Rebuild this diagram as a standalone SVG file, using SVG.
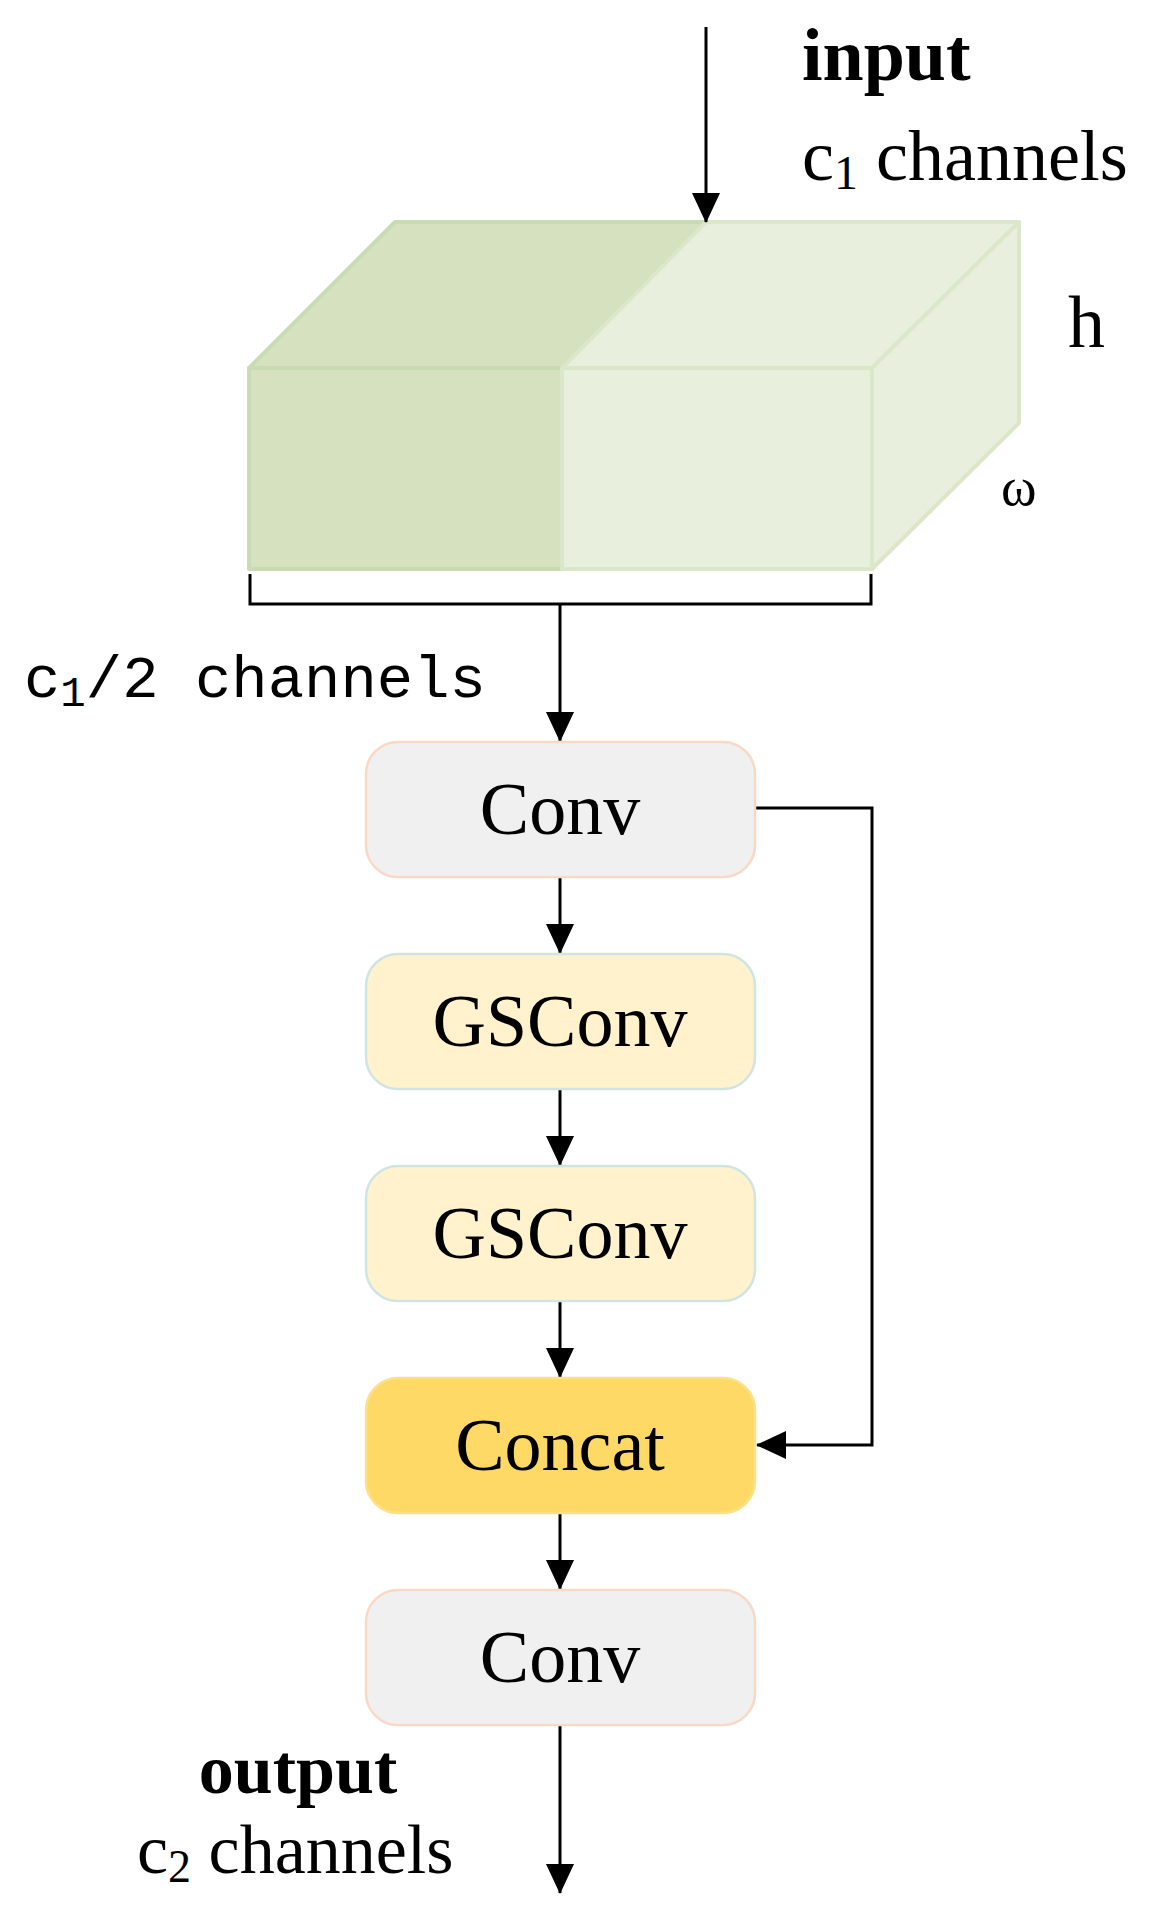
<svg xmlns="http://www.w3.org/2000/svg" width="1149" height="1912" viewBox="0 0 1149 1912">
<defs>
<marker id="ah" markerWidth="30" markerHeight="28" refX="29" refY="14" orient="auto" markerUnits="userSpaceOnUse" viewBox="0 0 30 28"><path d="M0,0 L30,14 L0,28 z" fill="#000"/></marker>
<style>
.t{font-family:"Liberation Serif",serif;fill:#000}
.n{font-size:74px;text-anchor:middle}
.b{font-weight:bold}
.ln{stroke:#000;stroke-width:3;fill:none}
.conv{fill:#f0f0f0;stroke:#f9d9c6;stroke-width:2.5}
.gs{fill:#fff2cc;stroke:#cfe5e3;stroke-width:2.5}
.cat{fill:#ffd966;stroke:#ffe08a;stroke-width:2.5}
</style>
</defs>
<rect width="1149" height="1912" fill="#fff"/>
<g id="tensor" stroke-width="4" stroke-linejoin="round">
<polygon points="249,368 395,222 706,222 562,368" fill="#d5e1bf" stroke="#c9dbb0"/>
<polygon points="562,368 706,222 1019,222 872,368" fill="#e8efdc" stroke="#dbe7c9"/>
<polygon points="872,368 1019,222 1019,423 872,569" fill="#e8efdc" stroke="#dbe7c9"/>
<rect x="249" y="368" width="313" height="201" fill="#d5e1bf" stroke="#c9dbb0"/>
<rect x="562" y="368" width="310" height="201" fill="#e8efdc" stroke="#dbe7c9"/>
</g>
<g id="labels">
<text class="t b" x="802" y="80" font-size="74">input</text>
<text class="t" x="802" y="180" font-size="72">c<tspan font-size="48" dy="9">1</tspan><tspan dy="-9"> channels</tspan></text>
<text class="t" x="1068" y="347" font-size="74">h</text>
<text class="t" x="1001" y="505" font-size="54">ω</text>
<text x="24" y="697" font-size="60" font-family="Liberation Mono,monospace" fill="#000" textLength="462" lengthAdjust="spacingAndGlyphs">c<tspan font-size="42" dy="9">1</tspan><tspan dy="-9">/2 channels</tspan></text>
<text class="t b" x="298" y="1793" font-size="70" text-anchor="middle">output</text>
<text class="t" x="137" y="1873" font-size="70">c<tspan font-size="46" dy="9">2</tspan><tspan dy="-9"> channels</tspan></text>
</g>
<g id="connectors">
<line class="ln" x1="706" y1="27" x2="706" y2="222" marker-end="url(#ah)"/>
<polyline class="ln" points="250,574 250,604 871,604 871,574"/>
<line class="ln" x1="560" y1="604" x2="560" y2="741" marker-end="url(#ah)"/>
<line class="ln" x1="560" y1="877" x2="560" y2="953" marker-end="url(#ah)"/>
<line class="ln" x1="560" y1="1089" x2="560" y2="1165" marker-end="url(#ah)"/>
<line class="ln" x1="560" y1="1301" x2="560" y2="1377" marker-end="url(#ah)"/>
<line class="ln" x1="560" y1="1513" x2="560" y2="1589" marker-end="url(#ah)"/>
<line class="ln" x1="560" y1="1725" x2="560" y2="1893" marker-end="url(#ah)"/>
<polyline class="ln" points="755,808 872,808 872,1445 757,1445" marker-end="url(#ah)"/>
</g>
<g id="conv1"><rect class="conv" x="366" y="742" width="389" height="135" rx="32"/><text class="t n" x="560" y="834">Conv</text></g>
<g id="gsconv1"><rect class="gs" x="366" y="954" width="389" height="135" rx="32"/><text class="t n" x="560" y="1046">GSConv</text></g>
<g id="gsconv2"><rect class="gs" x="366" y="1166" width="389" height="135" rx="32"/><text class="t n" x="560" y="1258">GSConv</text></g>
<g id="concat"><rect class="cat" x="366" y="1378" width="389" height="135" rx="32"/><text class="t n" x="560" y="1470">Concat</text></g>
<g id="conv2"><rect class="conv" x="366" y="1590" width="389" height="135" rx="32"/><text class="t n" x="560" y="1682">Conv</text></g>
</svg>
